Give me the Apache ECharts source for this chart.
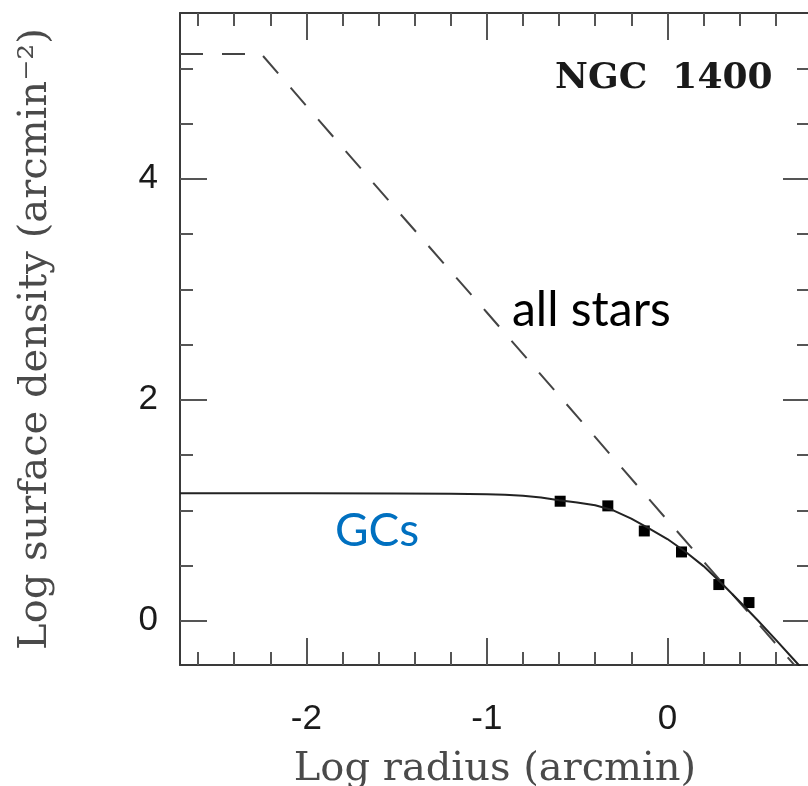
<!DOCTYPE html>
<html>
<head>
<meta charset="utf-8">
<script src="https://cdn.jsdelivr.net/npm/echarts@6/dist/echarts.min.js"></script>
<style>html,body{margin:0;padding:0;background:#fff;overflow:hidden;}#chart{width:808px;height:786px;}</style>
</head>
<body>
<div id="chart"></div>
<script>
// Tick values
var xMajorTicks = [-2, -1, 0];
var xMinorTicks = [-2.6, -2.4, -2.2, -1.8, -1.6, -1.4, -1.2, -0.8, -0.6, -0.4, -0.2, 0.2, 0.4, 0.6];
var yMajorTicks = [0, 2, 4];
var yMinorTicks = [0.5, 1, 1.5, 2.5, 3, 3.5, 4.5, 5];

// All stars profile (dashed)
var starsX = [-2.7, -2.25, -2.0, -1.5, -1.0, -0.5, 0.0, 0.5, 0.8];
var starsY = [5.13, 5.13, 4.66, 3.72, 2.79, 1.85, 0.91, -0.02, -0.58];

// GC fitted profile (solid)
var gcFitX = [-2.7, -2.0, -1.5, -1.2, -1.0, -0.9, -0.8, -0.7, -0.6, -0.5, -0.4, -0.3, -0.2, -0.1, 0.0, 0.1, 0.2, 0.3, 0.4, 0.5, 0.6, 0.7, 0.8];
var gcFitY = [1.155, 1.155, 1.153, 1.15, 1.146, 1.14, 1.132, 1.115, 1.09, 1.07, 1.045, 1.0, 0.925, 0.835, 0.74, 0.625, 0.495, 0.34, 0.175, 0.005, -0.17, -0.35, -0.53];

// GC measured points (squares)
var gcPtsX = [-0.594, -0.33, -0.128, 0.078, 0.285, 0.452];
var gcPtsY = [1.082, 1.04, 0.813, 0.623, 0.328, 0.165];

function zip(a, b) { return a.map(function (v, i) { return [v, b[i]]; }); }

var X_MIN = -2.7, X_MAX = 0.79, Y_MIN = -0.4, Y_MAX = 5.5;
var axisCol = '#3a3a3a', tickCol = '#555';

function xAx(pos, ticks, len, showLine, showLabel, extra) {
  var o = {
    type: 'value', min: X_MIN, max: X_MAX, position: pos, gridIndex: 0,
    axisLine: { show: showLine, onZero: false, lineStyle: { color: axisCol, width: 2 } },
    axisTick: { show: true, inside: true, length: len, customValues: ticks, lineStyle: { color: tickCol, width: 2 } },
    axisLabel: { show: showLabel, customValues: ticks, margin: 37, fontFamily: 'Liberation Sans', fontSize: 35, color: '#1a1a1a' },
    splitLine: { show: false }
  };
  return Object.assign(o, extra || {});
}
function yAx(pos, ticks, len, showLine, showLabel, extra) {
  var o = {
    type: 'value', min: Y_MIN, max: Y_MAX, position: pos, gridIndex: 0,
    axisLine: { show: showLine, onZero: false, lineStyle: { color: axisCol, width: 2 } },
    axisTick: { show: true, inside: true, length: len, customValues: ticks, lineStyle: { color: tickCol, width: 2 } },
    axisLabel: { show: showLabel, customValues: ticks, margin: 22, fontFamily: 'Liberation Sans', fontSize: 35, color: '#1a1a1a' },
    splitLine: { show: false }
  };
  return Object.assign(o, extra || {});
}

var chart = echarts.init(document.getElementById('chart'), null, { renderer: 'canvas' });
chart.setOption({
  animation: false,
  backgroundColor: '#ffffff',
  grid: { left: 180, top: 13, width: 630, height: 652, containLabel: false, outerBoundsMode: 'none' },
  xAxis: [
    xAx('bottom', xMajorTicks, 27, true, true, {
      name: 'Log radius (arcmin)', nameLocation: 'middle', nameGap: 85,
      nameTextStyle: { fontFamily: 'DejaVu Serif', fontSize: 40, color: '#4a4a4a' }
    }),
    xAx('bottom', xMinorTicks, 13, false, false),
    xAx('top', xMajorTicks, 27, true, false),
    xAx('top', xMinorTicks, 13, false, false)
  ],
  yAxis: [
    yAx('left', yMajorTicks, 27, true, true, {
      name: 'Log surface density (arcmin\u207B\u00B2)', nameLocation: 'middle', nameGap: 124,
      nameTextStyle: { fontFamily: 'DejaVu Serif', fontSize: 40, color: '#4a4a4a' }
    }),
    yAx('left', yMinorTicks, 13, false, false),
    yAx('right', yMajorTicks, 27, true, false),
    yAx('right', yMinorTicks, 13, false, false)
  ],
  series: [
    {
      name: 'all stars', type: 'line', xAxisIndex: 0, yAxisIndex: 0,
      data: zip(starsX, starsY), showSymbol: false, symbol: 'none', clip: true,
      lineStyle: { color: '#444', width: 2, type: [23, 19] }
    },
    {
      name: 'GC fit', type: 'line', xAxisIndex: 0, yAxisIndex: 0,
      data: zip(gcFitX, gcFitY), showSymbol: false, symbol: 'none', clip: true,
      smooth: false,
      lineStyle: { color: '#222', width: 2 }
    },
    {
      name: 'GCs', type: 'scatter', xAxisIndex: 0, yAxisIndex: 0,
      data: zip(gcPtsX, gcPtsY), symbol: 'rect', symbolSize: 11,
      itemStyle: { color: '#000', opacity: 1 }
    }
  ],
  graphic: [
    { type: 'text', left: 555, top: 61, style: { text: 'NGC  1400', font: 'bold 36px "DejaVu Serif"', fill: '#1a1a1a' } },
    { type: 'text', left: 512, top: 287, style: { text: 'all stars', font: '48px Lato', fill: '#000' } },
    { type: 'text', left: 335, top: 508, style: { text: 'GCs', font: '46px Lato', fill: '#0070C0' } }
  ]
});
</script>
</body>
</html>
